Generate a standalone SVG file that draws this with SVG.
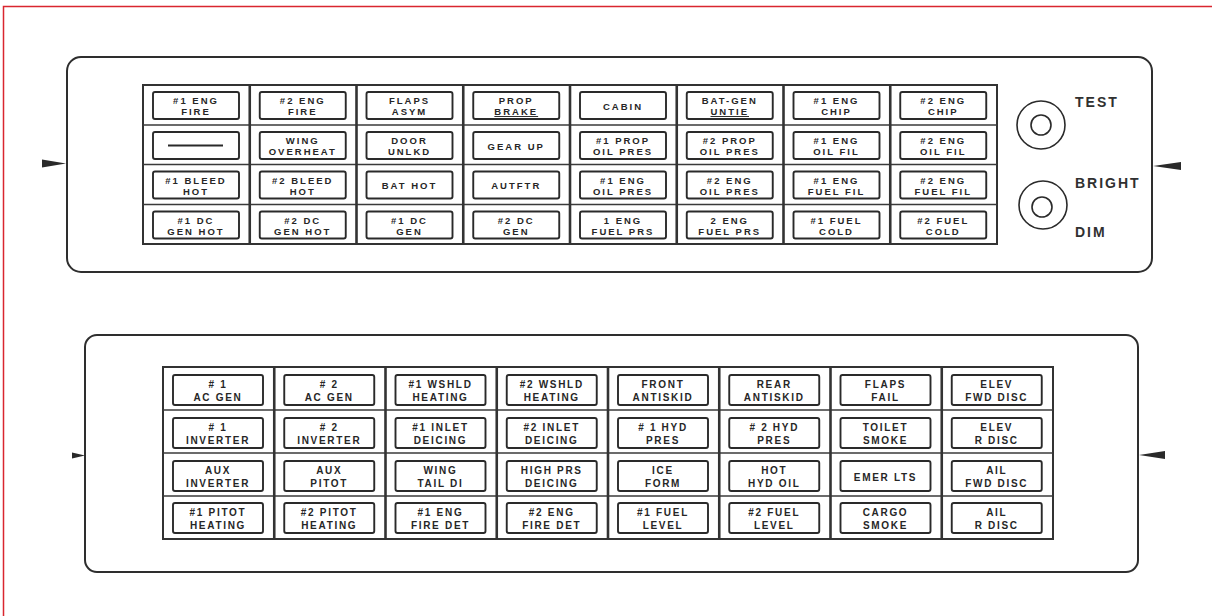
<svg xmlns="http://www.w3.org/2000/svg" width="1212" height="616" viewBox="0 0 1212 616">
<style>
.frame{fill:none;stroke:#d9262f;stroke-width:1.5}
.panel{fill:#fff;stroke:#2e2e2e;stroke-width:2}
.grid{fill:none;stroke:#333;stroke-width:2}
.row{stroke:#3a3a3a;stroke-width:1.6}
.col{stroke:#333;stroke-width:2.6}
.b{fill:#fff;stroke:#2a2a2a;stroke-width:1.9}
.t{font-family:"Liberation Sans",Arial,sans-serif;font-weight:bold;font-size:9.5px;letter-spacing:2px;fill:#262626;text-anchor:middle}
.u{font-family:"Liberation Sans",Arial,sans-serif;font-weight:bold;font-size:10px;letter-spacing:1.7px;fill:#262626;text-anchor:middle}
.lbl{font-family:"Liberation Sans",Arial,sans-serif;font-weight:bold;font-size:14px;letter-spacing:2px;fill:#303030}
.knob{fill:none;stroke:#2a2a2a;stroke-width:1.6}
.arr{fill:#2a2a2a}
</style>
<rect class="frame" x="3.5" y="6.5" width="1220" height="620"/>

<g id="top-panel">
<rect class="panel" x="67" y="57" width="1085" height="215" rx="14"/>
<rect class="grid" x="143" y="85" width="854" height="159"/>
<line class="row" x1="143" y1="125" x2="997" y2="125"/>
<line class="row" x1="143" y1="164.5" x2="997" y2="164.5"/>
<line class="row" x1="143" y1="204.5" x2="997" y2="204.5"/>
<line class="col" x1="249.75" y1="85" x2="249.75" y2="244"/>
<line class="col" x1="356.5" y1="85" x2="356.5" y2="244"/>
<line class="col" x1="463.25" y1="85" x2="463.25" y2="244"/>
<line class="col" x1="570" y1="85" x2="570" y2="244"/>
<line class="col" x1="676.75" y1="85" x2="676.75" y2="244"/>
<line class="col" x1="783.5" y1="85" x2="783.5" y2="244"/>
<line class="col" x1="890.25" y1="85" x2="890.25" y2="244"/>
</g>

<g id="t-r1c1"><rect class="b" x="153" y="92" width="86" height="27" rx="2"/><text class="t"><tspan x="196" y="104">#1 ENG</tspan><tspan x="196" y="115">FIRE</tspan></text></g>
<g id="t-r1c2"><rect class="b" x="259.75" y="92" width="86" height="27" rx="2"/><text class="t"><tspan x="302.75" y="104">#2 ENG</tspan><tspan x="302.75" y="115">FIRE</tspan></text></g>
<g id="t-r1c3"><rect class="b" x="366.5" y="92" width="86" height="27" rx="2"/><text class="t"><tspan x="409.5" y="104">FLAPS</tspan><tspan x="409.5" y="115">ASYM</tspan></text></g>
<g id="t-r1c4"><rect class="b" x="473.25" y="92" width="86" height="27" rx="2"/><text class="t"><tspan x="516.25" y="104">PROP</tspan><tspan x="516.25" y="115" text-decoration="underline">BRAKE</tspan></text></g>
<g id="t-r1c5"><rect class="b" x="580" y="92" width="86" height="27" rx="2"/><text class="t" x="623" y="109.5">CABIN</text></g>
<g id="t-r1c6"><rect class="b" x="686.75" y="92" width="86" height="27" rx="2"/><text class="t"><tspan x="729.75" y="104">BAT-GEN</tspan><tspan x="729.75" y="115" text-decoration="underline">UNTIE</tspan></text></g>
<g id="t-r1c7"><rect class="b" x="793.5" y="92" width="86" height="27" rx="2"/><text class="t"><tspan x="836.5" y="104">#1 ENG</tspan><tspan x="836.5" y="115">CHIP</tspan></text></g>
<g id="t-r1c8"><rect class="b" x="900.25" y="92" width="86" height="27" rx="2"/><text class="t"><tspan x="943.25" y="104">#2 ENG</tspan><tspan x="943.25" y="115">CHIP</tspan></text></g>

<g id="t-r2c1"><rect class="b" x="153" y="132" width="86" height="27" rx="2"/><line x1="168" y1="145.5" x2="223" y2="145.5" stroke="#2a2a2a" stroke-width="1.8"/></g>
<g id="t-r2c2"><rect class="b" x="259.75" y="132" width="86" height="27" rx="2"/><text class="t"><tspan x="302.75" y="144">WING</tspan><tspan x="302.75" y="155">OVERHEAT</tspan></text></g>
<g id="t-r2c3"><rect class="b" x="366.5" y="132" width="86" height="27" rx="2"/><text class="t"><tspan x="409.5" y="144">DOOR</tspan><tspan x="409.5" y="155">UNLKD</tspan></text></g>
<g id="t-r2c4"><rect class="b" x="473.25" y="132" width="86" height="27" rx="2"/><text class="t" x="516.25" y="149.5">GEAR UP</text></g>
<g id="t-r2c5"><rect class="b" x="580" y="132" width="86" height="27" rx="2"/><text class="t"><tspan x="623" y="144">#1 PROP</tspan><tspan x="623" y="155">OIL PRES</tspan></text></g>
<g id="t-r2c6"><rect class="b" x="686.75" y="132" width="86" height="27" rx="2"/><text class="t"><tspan x="729.75" y="144">#2 PROP</tspan><tspan x="729.75" y="155">OIL PRES</tspan></text></g>
<g id="t-r2c7"><rect class="b" x="793.5" y="132" width="86" height="27" rx="2"/><text class="t"><tspan x="836.5" y="144">#1 ENG</tspan><tspan x="836.5" y="155">OIL FIL</tspan></text></g>
<g id="t-r2c8"><rect class="b" x="900.25" y="132" width="86" height="27" rx="2"/><text class="t"><tspan x="943.25" y="144">#2 ENG</tspan><tspan x="943.25" y="155">OIL FIL</tspan></text></g>

<g id="t-r3c1"><rect class="b" x="153" y="171.5" width="86" height="27" rx="2"/><text class="t"><tspan x="196" y="183.5">#1 BLEED</tspan><tspan x="196" y="194.5">HOT</tspan></text></g>
<g id="t-r3c2"><rect class="b" x="259.75" y="171.5" width="86" height="27" rx="2"/><text class="t"><tspan x="302.75" y="183.5">#2 BLEED</tspan><tspan x="302.75" y="194.5">HOT</tspan></text></g>
<g id="t-r3c3"><rect class="b" x="366.5" y="171.5" width="86" height="27" rx="2"/><text class="t" x="409.5" y="189">BAT HOT</text></g>
<g id="t-r3c4"><rect class="b" x="473.25" y="171.5" width="86" height="27" rx="2"/><text class="t" x="516.25" y="189">AUTFTR</text></g>
<g id="t-r3c5"><rect class="b" x="580" y="171.5" width="86" height="27" rx="2"/><text class="t"><tspan x="623" y="183.5">#1 ENG</tspan><tspan x="623" y="194.5">OIL PRES</tspan></text></g>
<g id="t-r3c6"><rect class="b" x="686.75" y="171.5" width="86" height="27" rx="2"/><text class="t"><tspan x="729.75" y="183.5">#2 ENG</tspan><tspan x="729.75" y="194.5">OIL PRES</tspan></text></g>
<g id="t-r3c7"><rect class="b" x="793.5" y="171.5" width="86" height="27" rx="2"/><text class="t"><tspan x="836.5" y="183.5">#1 ENG</tspan><tspan x="836.5" y="194.5">FUEL FIL</tspan></text></g>
<g id="t-r3c8"><rect class="b" x="900.25" y="171.5" width="86" height="27" rx="2"/><text class="t"><tspan x="943.25" y="183.5">#2 ENG</tspan><tspan x="943.25" y="194.5">FUEL FIL</tspan></text></g>

<g id="t-r4c1"><rect class="b" x="153" y="211.5" width="86" height="27" rx="2"/><text class="t"><tspan x="196" y="223.5">#1 DC</tspan><tspan x="196" y="234.5">GEN HOT</tspan></text></g>
<g id="t-r4c2"><rect class="b" x="259.75" y="211.5" width="86" height="27" rx="2"/><text class="t"><tspan x="302.75" y="223.5">#2 DC</tspan><tspan x="302.75" y="234.5">GEN HOT</tspan></text></g>
<g id="t-r4c3"><rect class="b" x="366.5" y="211.5" width="86" height="27" rx="2"/><text class="t"><tspan x="409.5" y="223.5">#1 DC</tspan><tspan x="409.5" y="234.5">GEN</tspan></text></g>
<g id="t-r4c4"><rect class="b" x="473.25" y="211.5" width="86" height="27" rx="2"/><text class="t"><tspan x="516.25" y="223.5">#2 DC</tspan><tspan x="516.25" y="234.5">GEN</tspan></text></g>
<g id="t-r4c5"><rect class="b" x="580" y="211.5" width="86" height="27" rx="2"/><text class="t"><tspan x="623" y="223.5">1 ENG</tspan><tspan x="623" y="234.5">FUEL PRS</tspan></text></g>
<g id="t-r4c6"><rect class="b" x="686.75" y="211.5" width="86" height="27" rx="2"/><text class="t"><tspan x="729.75" y="223.5">2 ENG</tspan><tspan x="729.75" y="234.5">FUEL PRS</tspan></text></g>
<g id="t-r4c7"><rect class="b" x="793.5" y="211.5" width="86" height="27" rx="2"/><text class="t"><tspan x="836.5" y="223.5">#1 FUEL</tspan><tspan x="836.5" y="234.5">COLD</tspan></text></g>
<g id="t-r4c8"><rect class="b" x="900.25" y="211.5" width="86" height="27" rx="2"/><text class="t"><tspan x="943.25" y="223.5">#2 FUEL</tspan><tspan x="943.25" y="234.5">COLD</tspan></text></g>

<g id="test-knob"><circle class="knob" cx="1041" cy="125" r="24"/><circle class="knob" cx="1041" cy="125" r="10"/></g>
<g id="bright-knob"><circle class="knob" cx="1043" cy="205" r="24"/><circle class="knob" cx="1042" cy="207" r="10"/></g>
<g id="labels">
<text class="lbl" x="1075" y="107">TEST</text>
<text class="lbl" x="1075" y="188">BRIGHT</text>
<text class="lbl" x="1075" y="237">DIM</text>
</g>

<g id="bottom-panel">
<rect class="panel" x="85" y="335" width="1053" height="237" rx="12"/>
<rect class="grid" x="163" y="367" width="890" height="172"/>
<line class="row" x1="163" y1="410" x2="1053" y2="410"/>
<line class="row" x1="163" y1="453" x2="1053" y2="453"/>
<line class="row" x1="163" y1="496" x2="1053" y2="496"/>
<line class="col" x1="274.25" y1="367" x2="274.25" y2="539"/>
<line class="col" x1="385.5" y1="367" x2="385.5" y2="539"/>
<line class="col" x1="496.75" y1="367" x2="496.75" y2="539"/>
<line class="col" x1="608" y1="367" x2="608" y2="539"/>
<line class="col" x1="719.25" y1="367" x2="719.25" y2="539"/>
<line class="col" x1="830.5" y1="367" x2="830.5" y2="539"/>
<line class="col" x1="941.75" y1="367" x2="941.75" y2="539"/>
</g>

<g id="b-r1c1"><rect class="b" x="173" y="375" width="90" height="30" rx="2"/><text class="u"><tspan x="218" y="388"># 1</tspan><tspan x="218" y="401">AC GEN</tspan></text></g>
<g id="b-r1c2"><rect class="b" x="284.25" y="375" width="90" height="30" rx="2"/><text class="u"><tspan x="329.25" y="388"># 2</tspan><tspan x="329.25" y="401">AC GEN</tspan></text></g>
<g id="b-r1c3"><rect class="b" x="395.5" y="375" width="90" height="30" rx="2"/><text class="u"><tspan x="440.5" y="388">#1 WSHLD</tspan><tspan x="440.5" y="401">HEATING</tspan></text></g>
<g id="b-r1c4"><rect class="b" x="506.75" y="375" width="90" height="30" rx="2"/><text class="u"><tspan x="551.75" y="388">#2 WSHLD</tspan><tspan x="551.75" y="401">HEATING</tspan></text></g>
<g id="b-r1c5"><rect class="b" x="618" y="375" width="90" height="30" rx="2"/><text class="u"><tspan x="663" y="388">FRONT</tspan><tspan x="663" y="401">ANTISKID</tspan></text></g>
<g id="b-r1c6"><rect class="b" x="729.25" y="375" width="90" height="30" rx="2"/><text class="u"><tspan x="774.25" y="388">REAR</tspan><tspan x="774.25" y="401">ANTISKID</tspan></text></g>
<g id="b-r1c7"><rect class="b" x="840.5" y="375" width="90" height="30" rx="2"/><text class="u"><tspan x="885.5" y="388">FLAPS</tspan><tspan x="885.5" y="401">FAIL</tspan></text></g>
<g id="b-r1c8"><rect class="b" x="951.75" y="375" width="90" height="30" rx="2"/><text class="u"><tspan x="996.75" y="388">ELEV</tspan><tspan x="996.75" y="401">FWD DISC</tspan></text></g>

<g id="b-r2c1"><rect class="b" x="173" y="418" width="90" height="30" rx="2"/><text class="u"><tspan x="218" y="431"># 1</tspan><tspan x="218" y="444">INVERTER</tspan></text></g>
<g id="b-r2c2"><rect class="b" x="284.25" y="418" width="90" height="30" rx="2"/><text class="u"><tspan x="329.25" y="431"># 2</tspan><tspan x="329.25" y="444">INVERTER</tspan></text></g>
<g id="b-r2c3"><rect class="b" x="395.5" y="418" width="90" height="30" rx="2"/><text class="u"><tspan x="440.5" y="431">#1 INLET</tspan><tspan x="440.5" y="444">DEICING</tspan></text></g>
<g id="b-r2c4"><rect class="b" x="506.75" y="418" width="90" height="30" rx="2"/><text class="u"><tspan x="551.75" y="431">#2 INLET</tspan><tspan x="551.75" y="444">DEICING</tspan></text></g>
<g id="b-r2c5"><rect class="b" x="618" y="418" width="90" height="30" rx="2"/><text class="u"><tspan x="663" y="431"># 1 HYD</tspan><tspan x="663" y="444">PRES</tspan></text></g>
<g id="b-r2c6"><rect class="b" x="729.25" y="418" width="90" height="30" rx="2"/><text class="u"><tspan x="774.25" y="431"># 2 HYD</tspan><tspan x="774.25" y="444">PRES</tspan></text></g>
<g id="b-r2c7"><rect class="b" x="840.5" y="418" width="90" height="30" rx="2"/><text class="u"><tspan x="885.5" y="431">TOILET</tspan><tspan x="885.5" y="444">SMOKE</tspan></text></g>
<g id="b-r2c8"><rect class="b" x="951.75" y="418" width="90" height="30" rx="2"/><text class="u"><tspan x="996.75" y="431">ELEV</tspan><tspan x="996.75" y="444">R DISC</tspan></text></g>

<g id="b-r3c1"><rect class="b" x="173" y="461" width="90" height="30" rx="2"/><text class="u"><tspan x="218" y="474">AUX</tspan><tspan x="218" y="487">INVERTER</tspan></text></g>
<g id="b-r3c2"><rect class="b" x="284.25" y="461" width="90" height="30" rx="2"/><text class="u"><tspan x="329.25" y="474">AUX</tspan><tspan x="329.25" y="487">PITOT</tspan></text></g>
<g id="b-r3c3"><rect class="b" x="395.5" y="461" width="90" height="30" rx="2"/><text class="u"><tspan x="440.5" y="474">WING</tspan><tspan x="440.5" y="487">TAIL DI</tspan></text></g>
<g id="b-r3c4"><rect class="b" x="506.75" y="461" width="90" height="30" rx="2"/><text class="u"><tspan x="551.75" y="474">HIGH PRS</tspan><tspan x="551.75" y="487">DEICING</tspan></text></g>
<g id="b-r3c5"><rect class="b" x="618" y="461" width="90" height="30" rx="2"/><text class="u"><tspan x="663" y="474">ICE</tspan><tspan x="663" y="487">FORM</tspan></text></g>
<g id="b-r3c6"><rect class="b" x="729.25" y="461" width="90" height="30" rx="2"/><text class="u"><tspan x="774.25" y="474">HOT</tspan><tspan x="774.25" y="487">HYD OIL</tspan></text></g>
<g id="b-r3c7"><rect class="b" x="840.5" y="461" width="90" height="30" rx="2"/><text class="u" x="885.5" y="480.5">EMER LTS</text></g>
<g id="b-r3c8"><rect class="b" x="951.75" y="461" width="90" height="30" rx="2"/><text class="u"><tspan x="996.75" y="474">AIL</tspan><tspan x="996.75" y="487">FWD DISC</tspan></text></g>

<g id="b-r4c1"><rect class="b" x="173" y="503" width="90" height="30" rx="2"/><text class="u"><tspan x="218" y="515.5">#1 PITOT</tspan><tspan x="218" y="529">HEATING</tspan></text></g>
<g id="b-r4c2"><rect class="b" x="284.25" y="503" width="90" height="30" rx="2"/><text class="u"><tspan x="329.25" y="515.5">#2 PITOT</tspan><tspan x="329.25" y="529">HEATING</tspan></text></g>
<g id="b-r4c3"><rect class="b" x="395.5" y="503" width="90" height="30" rx="2"/><text class="u"><tspan x="440.5" y="515.5">#1 ENG</tspan><tspan x="440.5" y="529">FIRE DET</tspan></text></g>
<g id="b-r4c4"><rect class="b" x="506.75" y="503" width="90" height="30" rx="2"/><text class="u"><tspan x="551.75" y="515.5">#2 ENG</tspan><tspan x="551.75" y="529">FIRE DET</tspan></text></g>
<g id="b-r4c5"><rect class="b" x="618" y="503" width="90" height="30" rx="2"/><text class="u"><tspan x="663" y="515.5">#1 FUEL</tspan><tspan x="663" y="529">LEVEL</tspan></text></g>
<g id="b-r4c6"><rect class="b" x="729.25" y="503" width="90" height="30" rx="2"/><text class="u"><tspan x="774.25" y="515.5">#2 FUEL</tspan><tspan x="774.25" y="529">LEVEL</tspan></text></g>
<g id="b-r4c7"><rect class="b" x="840.5" y="503" width="90" height="30" rx="2"/><text class="u"><tspan x="885.5" y="515.5">CARGO</tspan><tspan x="885.5" y="529">SMOKE</tspan></text></g>
<g id="b-r4c8"><rect class="b" x="951.75" y="503" width="90" height="30" rx="2"/><text class="u"><tspan x="996.75" y="515.5">AIL</tspan><tspan x="996.75" y="529">R DISC</tspan></text></g>

<g id="connectors">
<polygon class="arr" points="42,159.5 42,167.5 66,163.5"/>
<polygon class="arr" points="1181,162 1181,170 1153,166"/>
<polygon class="arr" points="72,452.5 72,458.5 85,455.5"/>
<polygon class="arr" points="1165,451 1165,459 1139,455"/>
</g>
</svg>
